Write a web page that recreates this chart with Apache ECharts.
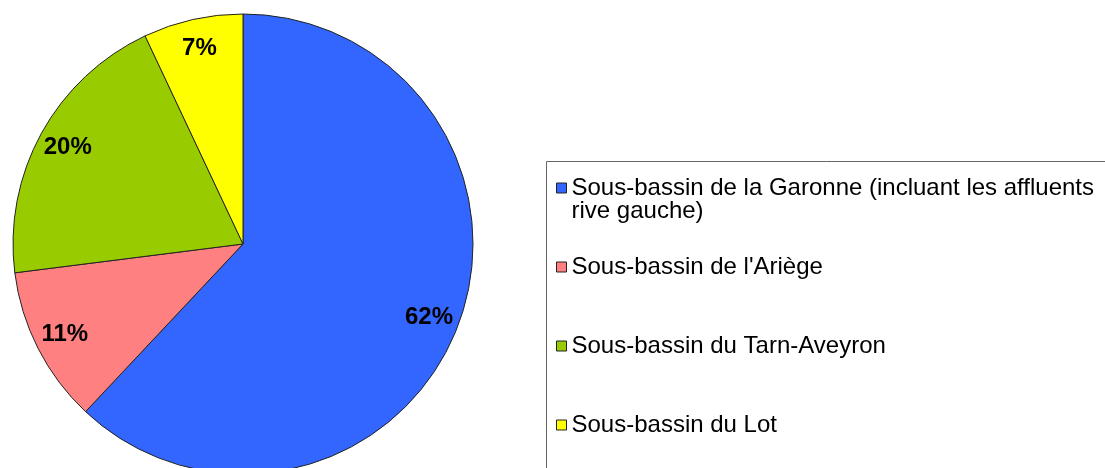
<!DOCTYPE html>
<html>
<head>
<meta charset="utf-8">
<script src="https://cdn.jsdelivr.net/npm/echarts@6/dist/echarts.min.js"></script>
<style>
  html, body { margin: 0; padding: 0; background: #fff; }
  #chart { width: 1105px; height: 468px; }
</style>
</head>
<body>
<div id="chart"></div>
<script>
// sous-bassins, part en %
const names = [
  "Sous-bassin de la Garonne (incluant les affluents rive gauche)",
  "Sous-bassin de l'Ariège",
  "Sous-bassin du Tarn-Aveyron",
  "Sous-bassin du Lot"
]
const values = [62, 11, 20, 7]
const colors = ["#3366FF", "#FF8080", "#99CC00", "#FFFF00"]
// texte affiché dans la légende (retour à la ligne comme dans l'original)
const legendText = [
  "Sous-bassin de la Garonne (incluant les affluents\nrive gauche)",
  "Sous-bassin de l'Ariège",
  "Sous-bassin du Tarn-Aveyron",
  "Sous-bassin du Lot"
]

const data = names.map((n, i) => ({ name: n, value: values[i], itemStyle: { color: colors[i] } }))

const chart = echarts.init(document.getElementById("chart"))

const option = {
  animation: false,
  color: colors,
  graphic: [
    {
      type: "rect",
      left: 544,
      top: 159,
      shape: { width: 700, height: 400 },
      style: { fill: "none", stroke: "#666", lineWidth: 1 },
      silent: true
    }
  ],
  legend: {
    orient: "vertical",
    left: 556,
    top: 153,
    padding: 0,
    itemGap: 9,
    itemWidth: 10,
    itemHeight: 10,
    icon: "rect",
    itemStyle: { borderColor: "#222", borderWidth: 1 },
    data: names,
    formatter: function (name) {
      // ligne vide en tête pour garder la 1re ligne au niveau du carré
      const t = legendText[names.indexOf(name)]
      return t.indexOf("\n") >= 0 ? "\n" + t : "\n" + t + "\n"
    },
    textStyle: {
      fontFamily: "Liberation Sans, Arial, sans-serif",
      fontSize: 24,
      lineHeight: 23,
      color: "#000"
    }
  },
  series: [
    {
      type: "pie",
      center: [243, 244],
      radius: 230,
      startAngle: 90,
      clockwise: true,
      label: { show: false },
      labelLine: { show: false },
      itemStyle: { borderColor: "#222", borderWidth: 1 },
      emphasis: { disabled: true },
      data: data
    },
    {
      // anneau transparent : place les % à ~0.86 du rayon
      type: "pie",
      center: [243, 244],
      radius: [164, 230],
      startAngle: 90,
      clockwise: true,
      silent: true,
      z: 3,
      itemStyle: { color: "transparent", borderWidth: 0 },
      label: {
        show: true,
        position: "inside",
        formatter: "{c}%",
        fontFamily: "Liberation Sans, Arial, sans-serif",
        fontWeight: "bold",
        fontSize: 24,
        color: "#000"
      },
      labelLine: { show: false },
      data: names.map((n, i) => ({ name: n, value: values[i] }))
    }
  ]
}

chart.setOption(option)
window.addEventListener("resize", function () {
  chart.resize()
})
</script>
</body>
</html>
